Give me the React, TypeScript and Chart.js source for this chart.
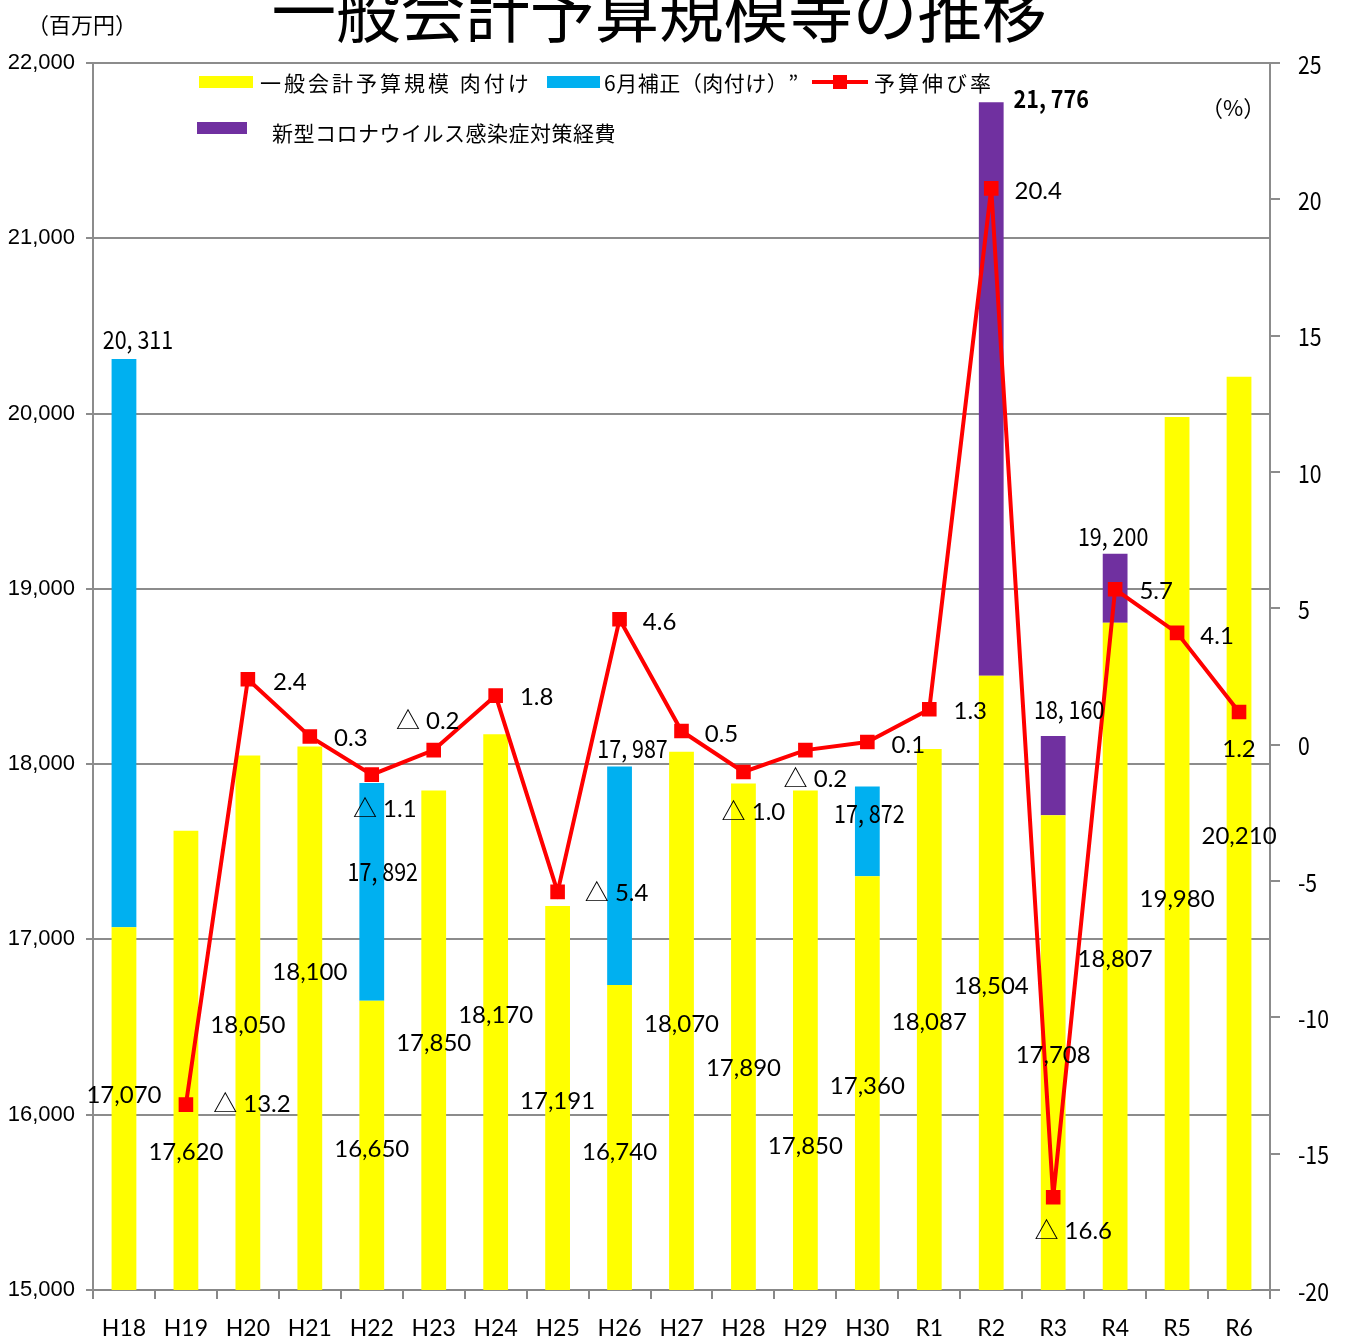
import React, { useEffect, useRef } from "react";
import { Chart, registerables } from "chart.js";
Chart.register(...registerables);

const categories = ["H18","H19","H20","H21","H22","H23","H24","H25","H26","H27","H28","H29","H30","R1","R2","R3","R4","R5","R6"];
const baseBudget = [17070,17620,18050,18100,16650,17850,18170,17191,16740,18070,17890,17850,17360,18087,18504,17708,18807,19980,20210];
const juneTotals: (number|null)[] = [20311,null,null,null,17892,null,null,null,17987,null,null,null,17872,null,null,null,null,null,null];
const coronaTotals: (number|null)[] = [null,null,null,null,null,null,null,null,null,null,null,null,null,null,21776,18160,19200,null,null];
const growthRate: (number|null)[] = [null,-13.2,2.4,0.3,-1.1,-0.2,1.8,-5.4,4.6,0.5,-1.0,-0.2,0.1,1.3,20.4,-16.6,5.7,4.1,1.2];

// label placement (layout only)
const baseLabelAt = [16112,15787,16512,16814,15804,16409,16569,16078,15787,16517,16266,15821,16164,16529,16734,16341,16888,17231,17590];
const rateLabelOffset: [number,number][] = [[0,0],[66,0],[42,3],[41,2],[13,35],[-6,-29],[41,2],[59,1],[40,3],[40,3],[10,40],[10,29],[41,3],[41,2],[47,3],[20,34],[41,2],[40,3],[0,37]];
const totalLabelOffset: [number,number][] = [[14,-20],[0,0],[0,0],[0,0],[11,88],[0,0],[0,0],[0,0],[13,-18],[0,0],[0,0],[0,0],[2,27],[0,0],[60,-4],[16,-27],[-2,-17],[0,0],[0,0]];

const YELLOW = "#FFFF00";
const BLUE = "#00B0F0";
const PURPLE = "#7030A0";
const RED = "#FF0000";
const JP = "'Noto Sans CJK JP', sans-serif";
const NUM = "Lato, 'Noto Sans CJK JP', sans-serif";

const juneSeg = juneTotals.map((t, i) => (t == null ? null : t - baseBudget[i]));
const coronaSeg = coronaTotals.map((t, i) => (t == null ? null : t - baseBudget[i]));

const fmt = (v: number, sep: string) => {
  const s = String(Math.round(v));
  return s.slice(0, s.length - 3) + sep + s.slice(s.length - 3);
};

const textPlugin = {
  id: "textPlugin",
  afterDatasetsDraw(chart: any) {
    const ctx = chart.ctx as CanvasRenderingContext2D;
    const x = chart.scales.x;
    const y = chart.scales.y;
    const y1 = chart.scales.y1;
    ctx.save();
    ctx.fillStyle = "#000";
    ctx.textBaseline = "middle";
    ctx.textAlign = "center";
    // base labels
    ctx.font = `24px ${NUM}`;
    baseBudget.forEach((v, i) => {
      ctx.fillText(fmt(v, ","), x.getPixelForValue(i), y.getPixelForValue(baseLabelAt[i]));
    });
    // rate labels
    growthRate.forEach((v, i) => {
      if (v == null) return;
      const px = x.getPixelForValue(i) + rateLabelOffset[i][0];
      const py = y1.getPixelForValue(v) + rateLabelOffset[i][1];
      const txt = v < 0 ? `△ ${Math.abs(v).toFixed(1)}` : v.toFixed(1);
      ctx.fillText(txt, px, py);
    });
    // totals
    const drawTotal = (t: number | null, i: number, bold: boolean) => {
      if (t == null) return;
      const px = x.getPixelForValue(i) + totalLabelOffset[i][0];
      const py = y.getPixelForValue(t) + totalLabelOffset[i][1];
      ctx.save();
      ctx.translate(px, py);
      ctx.scale(0.86, 1);
      ctx.font = `${bold ? "bold " : ""}25px ${JP}`;
      ctx.fillText(fmt(t, ", "), 0, 0);
      ctx.restore();
    };
    juneTotals.forEach((t, i) => drawTotal(t, i, false));
    coronaTotals.forEach((t, i) => drawTotal(t, i, i === 14));
    ctx.restore();
  },
  afterDraw(chart: any) {
    const ctx = chart.ctx as CanvasRenderingContext2D;
    const y1 = chart.scales.y1;
    ctx.save();
    ctx.fillStyle = "#000";
    // right axis tick labels
    ctx.textAlign = "left";
    ctx.textBaseline = "middle";
    y1.ticks.forEach((t: any) => {
      ctx.save();
      ctx.translate(1298, y1.getPixelForValue(t.value) + 1);
      ctx.scale(0.85, 1);
      ctx.font = `25px ${JP}`;
      ctx.fillText(String(t.value), 0, 0);
      ctx.restore();
    });
    // title
    ctx.save();
    ctx.translate(659, 37);
    ctx.scale(0.95, 1);
    ctx.textAlign = "center";
    ctx.textBaseline = "alphabetic";
    ctx.font = `normal 68px ${JP}`;
    ctx.fillText("一般会計予算規模等の推移", 0, 0);
    ctx.restore();
    ctx.textBaseline = "middle";
    ctx.textAlign = "left";
    ctx.font = `22px ${JP}`;
    ctx.fillText("（百万円）", 27, 25);
    ctx.fillText("（%）", 1201, 108);
    // legend
    ctx.fillStyle = YELLOW;
    ctx.fillRect(199, 76, 54, 12);
    ctx.fillStyle = BLUE;
    ctx.fillRect(547, 76, 53, 12);
    ctx.fillStyle = PURPLE;
    ctx.fillRect(197, 122, 50, 12);
    ctx.strokeStyle = RED;
    ctx.lineWidth = 4;
    ctx.beginPath();
    ctx.moveTo(812, 82);
    ctx.lineTo(868, 82);
    ctx.stroke();
    ctx.fillStyle = RED;
    ctx.fillRect(833, 75, 14, 14);
    ctx.fillStyle = "#000";
    ctx.font = `21px ${JP}`;
    (ctx as any).letterSpacing = "3px";
    ctx.fillText("一般会計予算規模 肉付け", 260, 83);
    ctx.fillText("予算伸び率", 874, 83);
    (ctx as any).letterSpacing = "0.5px";
    ctx.fillText("6月補正（肉付け）”", 604, 83);
    ctx.fillText("新型コロナウイルス感染症対策経費", 272, 133);
    (ctx as any).letterSpacing = "0px";
    ctx.restore();
  },
};

export default function App() {
  const ref = useRef<HTMLCanvasElement>(null);
  useEffect(() => {
    if (!ref.current) return;
    const chart = new Chart(ref.current, {
      type: "bar",
      data: {
        labels: categories,
        datasets: [
          {
            type: "line",
            label: "予算伸び率",
            data: growthRate,
            yAxisID: "y1",
            borderColor: RED,
            backgroundColor: RED,
            borderWidth: 4,
            pointStyle: "rect",
            pointRadius: 7.5,
            pointHoverRadius: 7.5,
            tension: 0,
            spanGaps: false,
            order: 0,
          } as any,
          {
            label: "一般会計予算規模 肉付け",
            data: baseBudget,
            backgroundColor: YELLOW,
            stack: "s",
            yAxisID: "y",
            order: 1,
          },
          {
            label: "6月補正（肉付け）”",
            data: juneSeg,
            backgroundColor: BLUE,
            stack: "s",
            yAxisID: "y",
            order: 1,
          },
          {
            label: "新型コロナウイルス感染症対策経費",
            data: coronaSeg,
            backgroundColor: PURPLE,
            stack: "s",
            yAxisID: "y",
            order: 1,
          },
        ],
      },
      options: {
        responsive: false,
        animation: false,
        layout: { padding: { top: 63, left: 0, right: 0, bottom: 0 } },
        datasets: { bar: { barPercentage: 0.4, categoryPercentage: 1 } },
        plugins: { legend: { display: false }, tooltip: { enabled: false }, title: { display: false } },
        scales: {
          x: {
            stacked: true,
            grid: { drawOnChartArea: false, drawTicks: true, tickLength: 9, color: "#888", lineWidth: 2, offset: true },
            border: { color: "#888", width: 2 },
            ticks: { color: "#000", font: { size: 23, family: NUM }, padding: 16, maxRotation: 0 },
            afterFit: (s: any) => { s.height = 51; },
          },
          y: {
            stacked: true,
            position: "left",
            min: 15000,
            max: 22000,
            ticks: {
              stepSize: 1000,
              color: "#000",
              padding: 11,
              font: { size: 22, family: "'Liberation Sans', Arial, sans-serif" },
              callback: (v: any) => fmt(Number(v), ","),
            },
            grid: { color: "#8c8c8c", lineWidth: 2, tickLength: 7 },
            border: { color: "#8c8c8c", width: 2 },
            afterFit: (s: any) => { s.width = 93; },
          },
          y1: {
            position: "right",
            min: -20,
            max: 25,
            ticks: { stepSize: 5, color: "rgba(0,0,0,0)", padding: 18, font: { size: 22, family: NUM } },
            grid: { drawOnChartArea: false, color: "#8c8c8c", lineWidth: 2, tickLength: 10 },
            border: { color: "#8c8c8c", width: 2 },
            afterFit: (s: any) => { s.width = 78; },
          },
        },
      },
      plugins: [textPlugin],
    });
    return () => chart.destroy();
  }, []);
  return (
    <div style={{ position: "fixed", left: 0, top: 0, width: 1348, height: 1341, background: "#fff" }}>
      <canvas ref={ref} width={1348} height={1341} style={{ display: "block" }} />
    </div>
  );
}
